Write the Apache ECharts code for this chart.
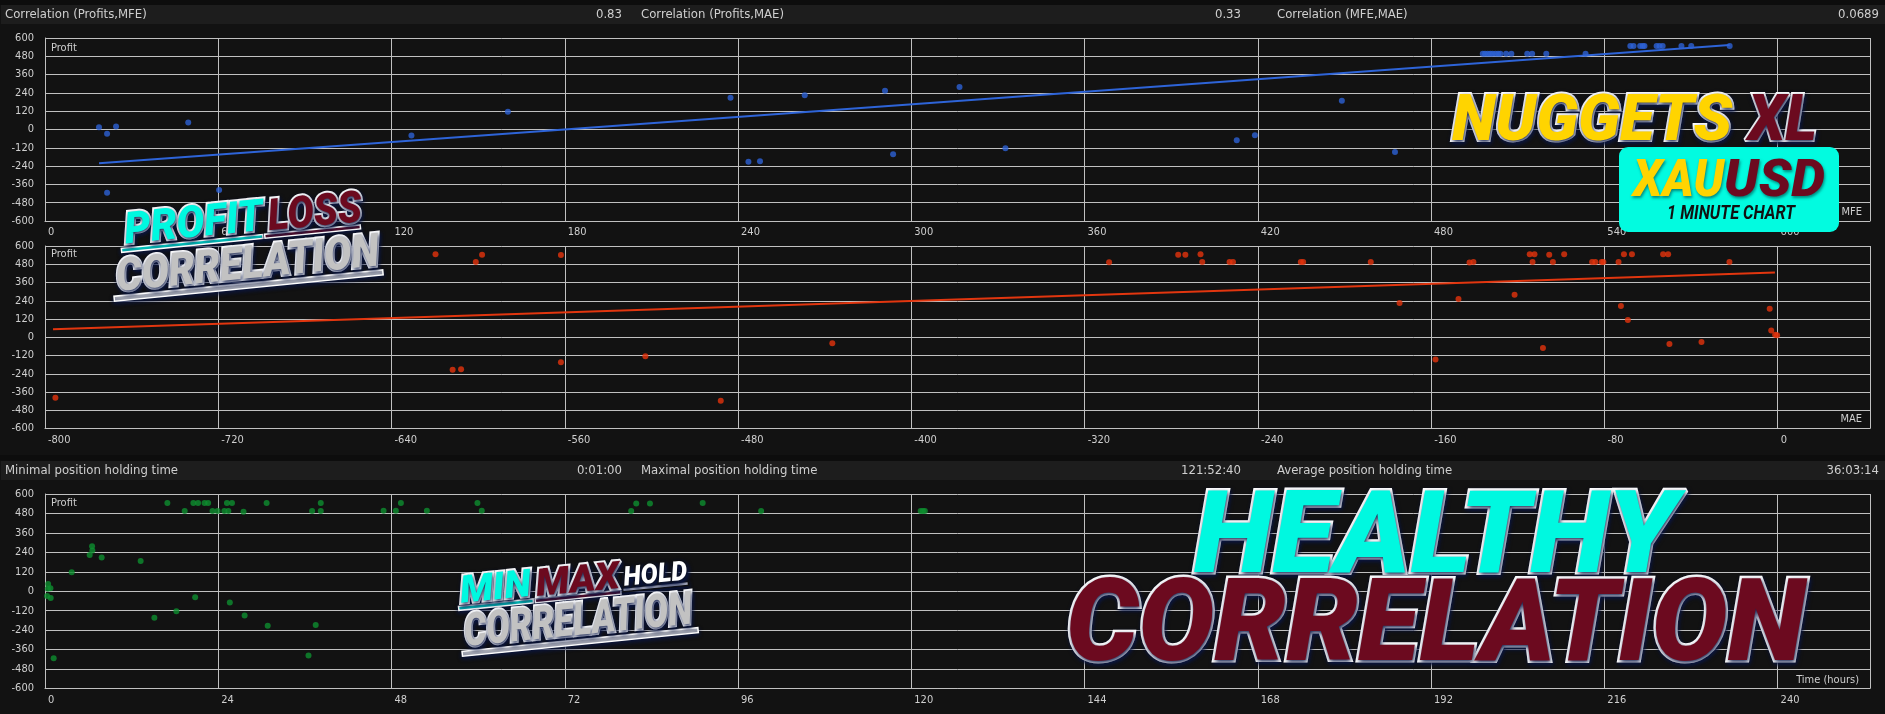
<!DOCTYPE html>
<html><head><meta charset="utf-8">
<script src="https://cdn.jsdelivr.net/npm/echarts@6/dist/echarts.min.js"></script>
<style>html,body{margin:0;padding:0;background:#121212;overflow:hidden}#c{width:1885px;height:714px;}</style>
</head><body><div id="c"></div><script>
// ---------------- DATA ----------------
const corrLabels = ['Correlation (Profits,MFE)', 'Correlation (Profits,MAE)', 'Correlation (MFE,MAE)'];
const corrValues = ['0.83', '0.33', '0.0689'];
const holdLabels = ['Minimal position holding time', 'Maximal position holding time', 'Average position holding time'];
const holdValues = ['0:01:00', '121:52:40', '36:03:14'];

const mfeX = [18.7, 21.5, 24.6, 21.5, 49.6, 60.3, 126.9, 160.3, 237.4, 243.6, 247.6, 263.1, 290.9, 293.7, 316.7, 332.6, 412.7, 419.0, 449.1, 467.5,
  497.9, 498.7, 499.6, 500.5, 501.3, 502.3, 503.2, 504.0, 506.0, 507.8, 513.3, 515.0, 519.9, 533.5,
  549.0, 550.1, 552.4, 553.3, 553.9, 558.1, 559.1, 560.2, 566.7, 570.1, 583.4];
const mfeProfit = [15, -28, 20, -414, 46, -396, -39, 116, 208, -212, -208, 225, 254, -162, 278, -123, -70, -37, 188, -147,
  497, 497, 497, 497, 497, 497, 497, 497, 497, 497, 497, 497, 497, 497,
  547, 547, 547, 547, 547, 547, 547, 547, 547, 547, 547];
const mfeTrendX = [18.7, 583.4];
const mfeTrendY = [-222, 554];

const maeX = [-795.2, -619.7, -611.8, -607.9, -601.1, -598.2, -561.8, -561.8, -522.8, -488.0, -436.5, -308.7, -276.8, -273.5, -266.5, -265.7, -253.1, -251.5,
  -220.2, -219.1, -187.9, -174.6, -158.0, -147.4, -142.3, -140.5, -121.5, -114.5, -113.2, -112.3, -108.4, -105.5, -103.8, -98.6,
  -85.7, -84.2, -81.3, -80.5, -73.5, -72.4, -71.0, -69.2, -67.3, -52.9, -50.6, -50.0, -35.2, -22.3, -3.7, -3.0, -1.2, -0.3];
const maeProfit = [-398, 545, -214, -210, 495, 543, 541, -164, -125, -418, -39, 493, 543, 543, 545, 495, 495, 495,
  495, 495, 495, 226, -147, 252, 491, 495, 279, 545, 495, 545, -70, 543, 495, 545,
  495, 495, 495, 495, 495, 206, 545, 114, 545, 545, 545, -44, -31, 495, 187, 44, 16, 13];
const maeTrendX = [-796.3, -1.3];
const maeTrendY = [53, 425];

const timeX = [0.29, 0.38, 0.43, 0.75, 0.79, 1.2, 3.7, 6.19, 6.52, 6.56, 7.85, 13.25, 15.15, 16.95, 18.2, 19.35, 20.55, 20.8, 21.2, 22.1,
  22.6, 23.2, 23.9, 24.85, 25.2, 25.4, 25.6, 25.9, 27.5, 27.65, 30.7, 30.85, 36.5, 37.0, 37.5, 38.2, 38.2, 46.9, 48.6, 49.3,
  52.9, 59.9, 60.5, 81.2, 81.9, 83.8, 91.1, 99.2, 121.3, 121.6, 121.88];
const timeProfit = [-29, 16, 45, 19, -41, -414, 117, 224, 278, 251, 208, 187, -163, 544, -124, 495, 544, -37, 544, 544,
  544, 495, 495, 495, 544, 495, -70, 544, 490, -149, 544, -213, -396, 495, -208, 544, 495, 497, 497, 544,
  497, 544, 497, 495, 542, 542, 544, 495, 495, 495, 495];

const profitRange = [-600, 600, 120];
const mfeRange = [0, 632, 60];
const maeRange = [-800, 42.6, 80];
const timeRange = [0, 252.8, 24];
const axisNames = ['MFE', 'MAE', 'Time (hours)'];

// ---------------- STYLE ----------------
const NARROW = '"Liberation Sans Narrow","DejaVu Sans Condensed","Liberation Sans",sans-serif';
const DECO = 'Roboto,"Open Sans","Liberation Sans",sans-serif';
const GRID_COLOR = '#c0c0c0';
const LABEL_COLOR = '#cfcfcf';
const CYAN = '#00f8e0', MAROON = '#6c0a1f', YELLOW = '#ffd400', SILVER = '#c2c2c2';

const zip = (a, b) => a.map((v, i) => [v, b[i]]);
const mctx = document.createElement('canvas').getContext('2d');
function measure(t, f) { mctx.font = f; return mctx.measureText(t).width; }

function word(txt, x, cy, w, size, fill, o) {
  o = o || {};
  const font = (o.fstyle || 'italic') + ' ' + (o.weight || 900) + ' ' + size + 'px ' + (o.family || DECO);
  const sx = w / measure(txt, font);
  return {type: 'text', x: x, y: cy + 0.08 * size, scaleX: sx, z: 100, silent: true,
    style: {text: txt, font: font, fill: fill,
      stroke: o.stroke === undefined ? '#ffffff' : o.stroke, lineWidth: o.lw === undefined ? 4 : o.lw,
      strokeFirst: true, textAlign: 'left', textVerticalAlign: 'middle', align: 'left', verticalAlign: 'middle',
      textShadowColor: o.shadow === undefined ? 'rgba(10,22,70,0.95)' : o.shadow, textShadowBlur: o.blur === undefined ? 4 : o.blur,
      textShadowOffsetX: 1, textShadowOffsetY: 2}};
}
function bar(x, y, w, h, fill, stroke) {
  return {type: 'rect', z: 99, silent: true, shape: {x: x, y: y, width: w, height: h},
    style: {fill: fill, stroke: stroke || '#ffffff', lineWidth: 1.5, shadowColor: 'rgba(10,22,70,0.9)', shadowBlur: 4, shadowOffsetY: 2}};
}
function plain(txt, x, y, size, align, color) {
  return {type: 'text', x: x, y: y, z: 50, silent: true,
    style: {text: txt, fill: color || LABEL_COLOR, font: size + 'px ' + NARROW,
      textAlign: align, textVerticalAlign: 'middle', align: align, verticalAlign: 'middle'}};
}

function xAxisCfg(gi, r) {
  const iv = r[2];
  return {gridIndex: gi, type: 'value', min: r[0], max: r[1], interval: iv,
    axisLine: {show: true, onZero: false, lineStyle: {color: GRID_COLOR, width: 1}},
    axisTick: {show: false},
    splitLine: {show: true, lineStyle: {color: GRID_COLOR, width: 1}},
    axisLabel: {color: LABEL_COLOR, fontSize: 11, fontFamily: NARROW, align: 'left', verticalAlign: 'top', margin: 6, padding: [0, 0, 0, 3],
      formatter: v => (Math.abs(v % iv) < 1e-6 ? String(v) : '')}};
}
function yAxisCfg(gi) {
  return {gridIndex: gi, type: 'value', min: profitRange[0], max: profitRange[1], interval: profitRange[2],
    axisLine: {show: true, onZero: false, lineStyle: {color: GRID_COLOR, width: 1}},
    axisTick: {show: false},
    splitLine: {show: true, lineStyle: {color: GRID_COLOR, width: 1}},
    axisLabel: {color: LABEL_COLOR, fontSize: 11, fontFamily: NARROW, margin: 11}};
}

// ---------------- GRAPHICS ----------------
const graphics = [
  {type: 'rect', z: 1, silent: true, shape: {x: 0, y: 0, width: 1885, height: 5}, style: {fill: '#0d0d0d'}},
  {type: 'rect', z: 1, silent: true, shape: {x: 1, y: 5, width: 1884, height: 19}, style: {fill: '#1d1d1d'}},
  {type: 'rect', z: 1, silent: true, shape: {x: 0, y: 455, width: 1885, height: 6}, style: {fill: '#0d0d0d'}},
  {type: 'rect', z: 1, silent: true, shape: {x: 1, y: 461, width: 1884, height: 19}, style: {fill: '#1d1d1d'}}
];
const labelX = [5, 641, 1277], valueRight = [622, 1241, 1879];
corrLabels.forEach((t, i) => { graphics.push(plain(t, labelX[i], 14.5, 13, 'left')); graphics.push(plain(corrValues[i], valueRight[i], 14.5, 13, 'right')); });
holdLabels.forEach((t, i) => { graphics.push(plain(t, labelX[i], 470.5, 13, 'left')); graphics.push(plain(holdValues[i], valueRight[i], 470.5, 13, 'right')); });
[48, 254, 503].forEach(y => graphics.push(plain('Profit', 51, y, 11, 'left')));
graphics.push(plain(axisNames[0], 1862, 212, 11, 'right'));
graphics.push(plain(axisNames[1], 1862, 419, 11, 'right'));
graphics.push(plain(axisNames[2], 1859, 680, 11, 'right'));

// PROFIT LOSS CORRELATION
graphics.push({type: 'group', x: 116, y: 276, rotation: 0.098, z: 100, children: [
  bar(8, -27, 142, 4, CYAN), bar(152, -27, 96, 4, MAROON),
  word('PROFIT', 13, -46, 139, 44, CYAN),
  word('LOSS', 157, -45, 94, 44, MAROON),
  bar(-4, 20, 270, 5, '#d6d6d6'),
  word('CORRELATION', 0, 0, 264, 46, SILVER)
]});
// MIN MAX HOLD CORRELATION
graphics.push({type: 'group', x: 464, y: 631, rotation: 0.1, z: 100, children: [
  bar(-3, -25, 75, 4, CYAN), bar(74, -25, 86, 4, MAROON), bar(162, -27, 66, 4, '#ffffff', '#111111'),
  word('MIN', 0, -41, 71, 38, CYAN),
  word('MAX', 76, -40, 84, 38, MAROON),
  word('HOLD', 164, -38, 64, 27, '#ffffff', {stroke: '#111111', lw: 3}),
  bar(-4, 20, 237, 5, '#d6d6d6'),
  word('CORRELATION', 0, 0, 229, 46, SILVER)
]});
// NUGGETS XL + XAUUSD badge
graphics.push(word('NUGGETS', 1452, 118.5, 280, 65, YELLOW));
graphics.push(word('XL', 1748, 118.5, 69, 65, MAROON));
graphics.push({type: 'rect', z: 99, silent: true, shape: {x: 1619, y: 147, width: 220, height: 85, r: 9}, style: {fill: '#02fbe0'}});
graphics.push(word('XAU', 1633, 178.5, 91, 52, YELLOW, {stroke: null, blur: 3, shadow: 'rgba(0,60,60,0.6)'}));
graphics.push(word('USD', 1724, 178.5, 101, 52, MAROON, {stroke: null, blur: 3, shadow: 'rgba(0,60,60,0.6)'}));
graphics.push(word('1 MINUTE CHART', 1667, 212.5, 128, 20, '#111111', {stroke: null, weight: 700, shadow: 'transparent', blur: 0}));
// HEALTHY CORRELATION
graphics.push(word('HEALTHY', 1194, 534, 483, 115, CYAN, {lw: 5}));
graphics.push(word('CORRELATION', 1066, 622.5, 739, 114, MAROON, {lw: 5}));

// ---------------- CHART ----------------
const chart = echarts.init(document.getElementById('c'), null, {renderer: 'canvas'});
chart.setOption({
  backgroundColor: '#121212',
  animation: false,
  grid: [
    {left: 45, top: 38, width: 1825, height: 183, containLabel: false, outerBoundsMode: 'none'},
    {left: 45, top: 246, width: 1825, height: 182.5, containLabel: false, outerBoundsMode: 'none'},
    {left: 45, top: 494, width: 1825, height: 194.5, containLabel: false, outerBoundsMode: 'none'}
  ],
  xAxis: [xAxisCfg(0, mfeRange), xAxisCfg(1, maeRange), xAxisCfg(2, timeRange)],
  yAxis: [yAxisCfg(0), yAxisCfg(1), yAxisCfg(2)],
  series: [
    {type: 'line', xAxisIndex: 0, yAxisIndex: 0, data: zip(mfeTrendX, mfeTrendY), showSymbol: false, lineStyle: {color: '#2e64d8', width: 2}, z: 2, silent: true},
    {type: 'scatter', xAxisIndex: 0, yAxisIndex: 0, data: zip(mfeX, mfeProfit), symbolSize: 6, itemStyle: {color: '#2d62d6'}, z: 3},
    {type: 'line', xAxisIndex: 1, yAxisIndex: 1, data: zip(maeTrendX, maeTrendY), showSymbol: false, lineStyle: {color: '#e2360f', width: 2}, z: 2, silent: true},
    {type: 'scatter', xAxisIndex: 1, yAxisIndex: 1, data: zip(maeX, maeProfit), symbolSize: 6, itemStyle: {color: '#e5330c'}, z: 3},
    {type: 'scatter', xAxisIndex: 2, yAxisIndex: 2, data: zip(timeX, timeProfit), symbolSize: 6, itemStyle: {color: '#0e8f2f'}, z: 3}
  ],
  graphic: {elements: graphics}
});
</script></body></html>
